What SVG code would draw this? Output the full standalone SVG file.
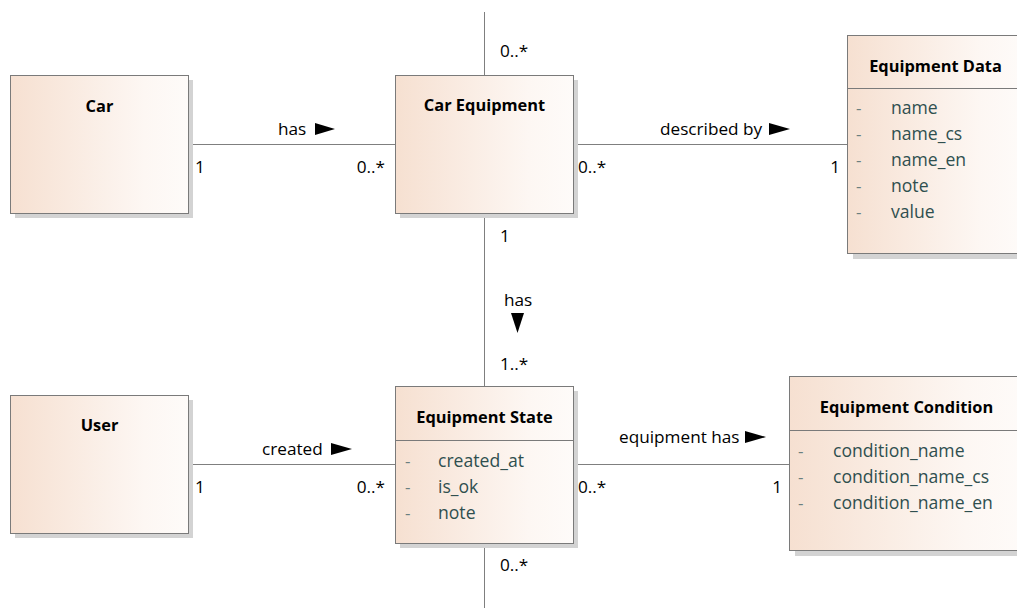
<svg xmlns="http://www.w3.org/2000/svg" width="1017" height="610" viewBox="0 0 1017 610">
  <defs>
    <linearGradient id="boxFill" x1="0" y1="0" x2="1" y2="0">
      <stop offset="0" stop-color="#F6E0D1"/>
      <stop offset="0.75" stop-color="#FDF7F3"/>
      <stop offset="1" stop-color="#FEFBF9"/>
    </linearGradient>
    <style>
      .shadow { fill: #d3d3d3; }
      .box { fill: url(#boxFill); stroke: #7a7a7a; stroke-width: 1; }
      .sep { stroke: #7a7a7a; stroke-width: 1; }
      .title { font-family: "Open Sans", "Noto Sans", sans-serif; font-weight: bold; font-size: 16.4px; fill: #000; text-anchor: middle; }
      .attr { font-family: "Open Sans", "Noto Sans", sans-serif; font-size: 17.6px; fill: #2f4f4f; }
      .dash { font-family: "Open Sans", "Noto Sans", sans-serif; font-size: 17px; fill: #6b7f7f; }
      .lbl { font-family: "Open Sans", "Noto Sans", sans-serif; font-size: 17.2px; fill: #000; }
      .conn { stroke: #7f7f7f; stroke-width: 1; fill: none; }
      .dir { fill: #000; }
    </style>
  </defs>

  <!-- associations -->
  <g id="connectors">
    <line class="conn" x1="484.5" y1="12" x2="484.5" y2="608"/>
    <line class="conn" x1="188" y1="144.5" x2="395" y2="144.5"/>
    <line class="conn" x1="573" y1="144.5" x2="847" y2="144.5"/>
    <line class="conn" x1="188" y1="464.5" x2="395" y2="464.5"/>
    <line class="conn" x1="573" y1="464.5" x2="789" y2="464.5"/>

    <!-- Car - Car Equipment -->
    <text class="lbl" x="278" y="135">has</text>
    <polygon class="dir" points="315,123 335,129 315,135"/>
    <text class="lbl" x="195" y="173">1</text>
    <text class="lbl" x="385" y="173" text-anchor="end">0..*</text>

    <!-- Car Equipment - Equipment Data -->
    <text class="lbl" x="660" y="135">described by</text>
    <polygon class="dir" points="769,123 790,129 769,135"/>
    <text class="lbl" x="578" y="173">0..*</text>
    <text class="lbl" x="840" y="173" text-anchor="end">1</text>

    <!-- User - Equipment State -->
    <text class="lbl" x="262" y="455">created</text>
    <polygon class="dir" points="331,443 352,449 331,455"/>
    <text class="lbl" x="195" y="493">1</text>
    <text class="lbl" x="385" y="493" text-anchor="end">0..*</text>

    <!-- Equipment State - Equipment Condition -->
    <text class="lbl" x="619" y="443">equipment has</text>
    <polygon class="dir" points="745,431 766,437 745,443"/>
    <text class="lbl" x="578" y="493">0..*</text>
    <text class="lbl" x="782" y="493" text-anchor="end">1</text>

    <!-- Car Equipment - Equipment State (vertical) -->
    <text class="lbl" x="500" y="57">0..*</text>
    <text class="lbl" x="500" y="242">1</text>
    <text class="lbl" x="504" y="306">has</text>
    <polygon class="dir" points="511,313 524,313 517.5,333"/>
    <text class="lbl" x="500" y="370">1..*</text>
    <text class="lbl" x="500" y="571">0..*</text>
  </g>

  <g id="car">
    <rect class="shadow" x="15" y="80" width="178" height="138"/>
    <rect class="box" x="10.5" y="75.5" width="178" height="138"/>
    <text class="title" x="99.5" y="112">Car</text>
  </g>

  <g id="car-equipment">
    <rect class="shadow" x="400" y="80" width="178" height="138"/>
    <rect class="box" x="395.5" y="75.5" width="178" height="138"/>
    <text class="title" x="484.5" y="111">Car Equipment</text>
  </g>

  <g id="equipment-data">
    <rect class="shadow" x="853" y="41" width="176" height="218"/>
    <rect class="box" x="847.5" y="35.5" width="176" height="218"/>
    <line class="sep" x1="847.5" y1="88.5" x2="1023" y2="88.5"/>
    <text class="title" x="935.5" y="72">Equipment Data</text>
    <text class="dash" x="856" y="114">-</text><text class="attr" x="891" y="114">name</text>
    <text class="dash" x="856" y="140">-</text><text class="attr" x="891" y="140">name_cs</text>
    <text class="dash" x="856" y="166">-</text><text class="attr" x="891" y="166">name_en</text>
    <text class="dash" x="856" y="192">-</text><text class="attr" x="891" y="192">note</text>
    <text class="dash" x="856" y="218">-</text><text class="attr" x="891" y="218">value</text>
  </g>

  <g id="user">
    <rect class="shadow" x="15" y="400" width="178" height="138"/>
    <rect class="box" x="10.5" y="395.5" width="178" height="138"/>
    <text class="title" x="99.5" y="431">User</text>
  </g>

  <g id="equipment-state">
    <rect class="shadow" x="400" y="391" width="178" height="157"/>
    <rect class="box" x="395.5" y="386.5" width="178" height="157"/>
    <line class="sep" x1="395.5" y1="440.5" x2="573.5" y2="440.5"/>
    <text class="title" x="484.5" y="423">Equipment State</text>
    <text class="dash" x="405" y="467">-</text><text class="attr" x="438" y="467">created_at</text>
    <text class="dash" x="405" y="493">-</text><text class="attr" x="438" y="493">is_ok</text>
    <text class="dash" x="405" y="519">-</text><text class="attr" x="438" y="519">note</text>
  </g>

  <g id="equipment-condition">
    <rect class="shadow" x="795" y="382" width="235" height="174"/>
    <rect class="box" x="789.5" y="376.5" width="235" height="174"/>
    <line class="sep" x1="789.5" y1="430.5" x2="1024" y2="430.5"/>
    <text class="title" x="906.5" y="413">Equipment Condition</text>
    <text class="dash" x="798" y="457">-</text><text class="attr" x="833" y="457">condition_name</text>
    <text class="dash" x="798" y="483">-</text><text class="attr" x="833" y="483">condition_name_cs</text>
    <text class="dash" x="798" y="509">-</text><text class="attr" x="833" y="509">condition_name_en</text>
  </g>
</svg>
